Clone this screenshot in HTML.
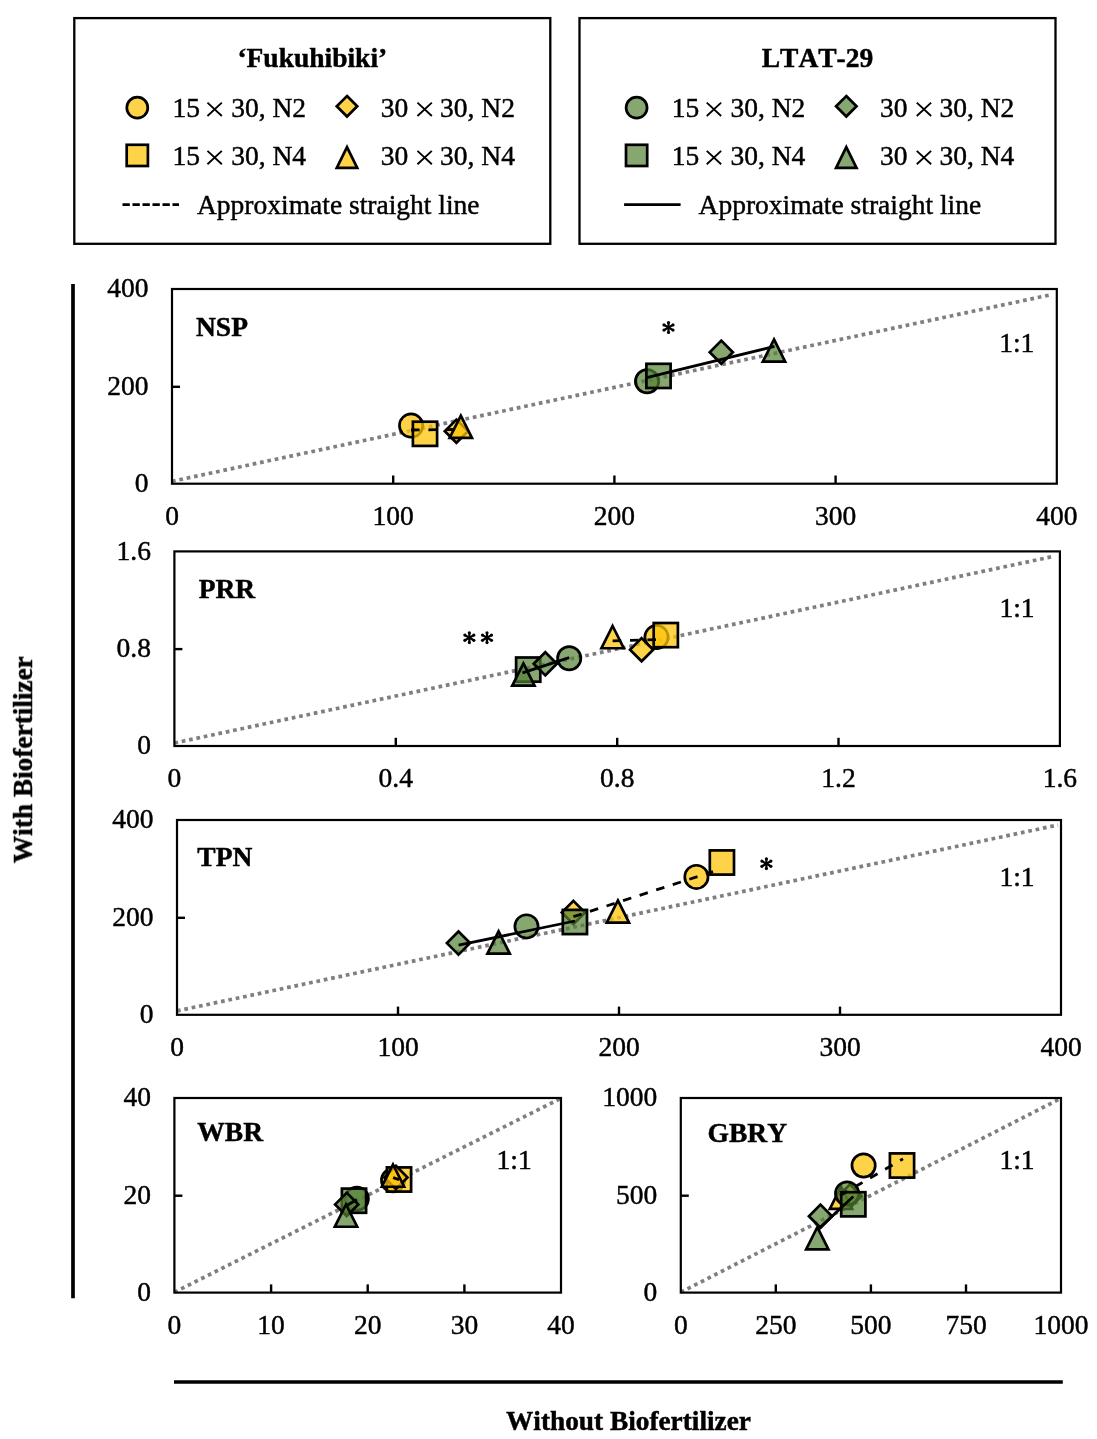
<!DOCTYPE html>
<html><head><meta charset="utf-8"><style>
html,body{margin:0;padding:0;background:#fff;overflow:hidden;}
svg{display:block;}
text{font-family:"Liberation Serif",serif;font-kerning:none;fill:#000;stroke:#000;stroke-width:0.45px;}
</style></head><body>
<svg width="1097" height="1439" viewBox="0 0 1097 1439">
<rect width="1097" height="1439" fill="#fff"/>
<rect x="74.3" y="18.1" width="476" height="225.7" fill="none" stroke="#000" stroke-width="2.3"/>
<circle cx="137.3" cy="107.7" r="10.50" fill="rgba(255,196,10,0.75)" stroke="#000" stroke-width="2.7"/>
<path d="M207.45 102.60L221.85 116.00M221.85 102.60L207.45 116.00" stroke="#000" stroke-width="1.85" fill="none"/>
<path d="M347.00 96.06L357.24 106.30L347.00 116.54L336.76 106.30Z" fill="rgba(255,196,10,0.75)" stroke="#000" stroke-width="2.7"/>
<path d="M417.45 102.60L431.85 116.00M431.85 102.60L417.45 116.00" stroke="#000" stroke-width="1.85" fill="none"/>
<rect x="126.70" y="144.80" width="21.20" height="21.20" fill="rgba(255,196,10,0.75)" stroke="#000" stroke-width="2.7"/>
<path d="M207.45 150.90L221.85 164.30M221.85 150.90L207.45 164.30" stroke="#000" stroke-width="1.85" fill="none"/>
<path d="M347.00 147.07L357.23 167.95L336.77 167.95Z" fill="rgba(255,196,10,0.75)" stroke="#000" stroke-width="2.7" stroke-linejoin="miter" stroke-miterlimit="10"/>
<path d="M417.45 150.90L431.85 164.30M431.85 150.90L417.45 164.30" stroke="#000" stroke-width="1.85" fill="none"/>
<line x1="122.5" y1="204.7" x2="179.0" y2="204.7" stroke="#000" stroke-width="2.7" stroke-dasharray="7.3 2.7" stroke-linecap="butt"/>
<rect x="579.5" y="18.1" width="476" height="225.7" fill="none" stroke="#000" stroke-width="2.3"/>
<circle cx="636.6" cy="107.7" r="10.50" fill="rgba(84,130,53,0.70)" stroke="#000" stroke-width="2.7"/>
<path d="M706.75 102.60L721.15 116.00M721.15 102.60L706.75 116.00" stroke="#000" stroke-width="1.85" fill="none"/>
<path d="M846.30 96.06L856.54 106.30L846.30 116.54L836.06 106.30Z" fill="rgba(84,130,53,0.70)" stroke="#000" stroke-width="2.7"/>
<path d="M916.75 102.60L931.15 116.00M931.15 102.60L916.75 116.00" stroke="#000" stroke-width="1.85" fill="none"/>
<rect x="626.00" y="144.80" width="21.20" height="21.20" fill="rgba(84,130,53,0.70)" stroke="#000" stroke-width="2.7"/>
<path d="M706.75 150.90L721.15 164.30M721.15 150.90L706.75 164.30" stroke="#000" stroke-width="1.85" fill="none"/>
<path d="M846.30 147.07L856.53 167.95L836.07 167.95Z" fill="rgba(84,130,53,0.70)" stroke="#000" stroke-width="2.7" stroke-linejoin="miter" stroke-miterlimit="10"/>
<path d="M916.75 150.90L931.15 164.30M931.15 150.90L916.75 164.30" stroke="#000" stroke-width="1.85" fill="none"/>
<line x1="624.1" y1="204.7" x2="680.6" y2="204.7" stroke="#000" stroke-width="2.7" stroke-linecap="butt"/>
<line x1="172.0" y1="481.3" x2="1052.0" y2="294.5" stroke="#7f7f7f" stroke-width="3.7" stroke-dasharray="3.7 3.8"/>
<circle cx="411.1" cy="425.6" r="11.65" fill="rgba(255,196,10,0.75)" stroke="#000" stroke-width="2.7"/>
<rect x="412.90" y="421.70" width="24.20" height="24.20" fill="rgba(255,196,10,0.75)" stroke="#000" stroke-width="2.7"/>
<path d="M456.40 419.61L467.99 431.20L456.40 442.79L444.81 431.20Z" fill="rgba(255,196,10,0.75)" stroke="#000" stroke-width="2.7"/>
<path d="M460.80 415.71L471.96 437.95L449.64 437.95Z" fill="rgba(255,196,10,0.75)" stroke="#000" stroke-width="2.7" stroke-linejoin="miter" stroke-miterlimit="10"/>
<circle cx="647.1" cy="381.2" r="11.65" fill="rgba(84,130,53,0.70)" stroke="#000" stroke-width="2.7"/>
<rect x="646.40" y="363.80" width="24.20" height="24.20" fill="rgba(84,130,53,0.70)" stroke="#000" stroke-width="2.7"/>
<path d="M721.30 340.61L732.89 352.20L721.30 363.79L709.71 352.20Z" fill="rgba(84,130,53,0.70)" stroke="#000" stroke-width="2.7"/>
<path d="M774.00 339.41L785.16 361.65L762.84 361.65Z" fill="rgba(84,130,53,0.70)" stroke="#000" stroke-width="2.7" stroke-linejoin="miter" stroke-miterlimit="10"/>
<line x1="411.0" y1="430.0" x2="456.0" y2="429.5" stroke="#000" stroke-width="2.8" stroke-dasharray="8.6 8.8" stroke-linecap="butt"/>
<line x1="646.7" y1="377.7" x2="774.5" y2="346.4" stroke="#000" stroke-width="2.8" stroke-linecap="butt"/>
<rect x="172.0" y="289.0" width="884.8" height="194.7" fill="none" stroke="#000" stroke-width="2.2"/>
<line x1="393.2" y1="483.7" x2="393.2" y2="475.5" stroke="#000" stroke-width="2.4" stroke-linecap="butt"/>
<line x1="614.4" y1="483.7" x2="614.4" y2="475.5" stroke="#000" stroke-width="2.4" stroke-linecap="butt"/>
<line x1="835.6" y1="483.7" x2="835.6" y2="475.5" stroke="#000" stroke-width="2.4" stroke-linecap="butt"/>
<line x1="172.0" y1="386.8" x2="180.0" y2="386.8" stroke="#000" stroke-width="2.4" stroke-linecap="butt"/>
<line x1="174.4" y1="743.0" x2="1052.0" y2="556.7" stroke="#7f7f7f" stroke-width="3.7" stroke-dasharray="3.7 3.8"/>
<circle cx="656.5" cy="637.1" r="11.65" fill="rgba(255,196,10,0.75)" stroke="#000" stroke-width="2.7"/>
<rect x="653.70" y="623.00" width="24.20" height="24.20" fill="rgba(255,196,10,0.75)" stroke="#000" stroke-width="2.7"/>
<path d="M641.60 638.11L653.19 649.70L641.60 661.29L630.01 649.70Z" fill="rgba(255,196,10,0.75)" stroke="#000" stroke-width="2.7"/>
<path d="M612.60 626.01L623.76 648.25L601.44 648.25Z" fill="rgba(255,196,10,0.75)" stroke="#000" stroke-width="2.7" stroke-linejoin="miter" stroke-miterlimit="10"/>
<circle cx="569.2" cy="658.3" r="11.65" fill="rgba(84,130,53,0.70)" stroke="#000" stroke-width="2.7"/>
<rect x="516.10" y="657.50" width="24.20" height="24.20" fill="rgba(84,130,53,0.70)" stroke="#000" stroke-width="2.7"/>
<path d="M545.30 652.21L556.89 663.80L545.30 675.39L533.71 663.80Z" fill="rgba(84,130,53,0.70)" stroke="#000" stroke-width="2.7"/>
<path d="M523.40 663.41L534.56 685.65L512.24 685.65Z" fill="rgba(84,130,53,0.70)" stroke="#000" stroke-width="2.7" stroke-linejoin="miter" stroke-miterlimit="10"/>
<line x1="612.6" y1="640.8" x2="656.2" y2="639.6" stroke="#000" stroke-width="2.8" stroke-dasharray="8.6 8.8" stroke-linecap="butt"/>
<line x1="522.5" y1="672.9" x2="569.2" y2="657.6" stroke="#000" stroke-width="2.8" stroke-linecap="butt"/>
<rect x="174.4" y="551.4" width="885.5" height="194.6" fill="none" stroke="#000" stroke-width="2.2"/>
<line x1="395.8" y1="746.0" x2="395.8" y2="737.8" stroke="#000" stroke-width="2.4" stroke-linecap="butt"/>
<line x1="617.2" y1="746.0" x2="617.2" y2="737.8" stroke="#000" stroke-width="2.4" stroke-linecap="butt"/>
<line x1="838.5" y1="746.0" x2="838.5" y2="737.8" stroke="#000" stroke-width="2.4" stroke-linecap="butt"/>
<line x1="174.4" y1="649.1" x2="182.4" y2="649.1" stroke="#000" stroke-width="2.4" stroke-linecap="butt"/>
<line x1="177.0" y1="1010.9" x2="1058.0" y2="825.0" stroke="#7f7f7f" stroke-width="3.7" stroke-dasharray="3.7 3.8"/>
<circle cx="696.4" cy="876.9" r="11.65" fill="rgba(255,196,10,0.75)" stroke="#000" stroke-width="2.7"/>
<rect x="709.80" y="850.40" width="24.20" height="24.20" fill="rgba(255,196,10,0.75)" stroke="#000" stroke-width="2.7"/>
<path d="M573.40 900.91L584.99 912.50L573.40 924.09L561.81 912.50Z" fill="rgba(255,196,10,0.75)" stroke="#000" stroke-width="2.7"/>
<path d="M617.90 900.41L629.06 922.65L606.74 922.65Z" fill="rgba(255,196,10,0.75)" stroke="#000" stroke-width="2.7" stroke-linejoin="miter" stroke-miterlimit="10"/>
<circle cx="526.5" cy="926.4" r="11.65" fill="rgba(84,130,53,0.70)" stroke="#000" stroke-width="2.7"/>
<rect x="562.80" y="909.90" width="24.20" height="24.20" fill="rgba(84,130,53,0.70)" stroke="#000" stroke-width="2.7"/>
<path d="M458.50 931.51L470.09 943.10L458.50 954.69L446.91 943.10Z" fill="rgba(84,130,53,0.70)" stroke="#000" stroke-width="2.7"/>
<path d="M498.60 931.31L509.76 953.55L487.44 953.55Z" fill="rgba(84,130,53,0.70)" stroke="#000" stroke-width="2.7" stroke-linejoin="miter" stroke-miterlimit="10"/>
<line x1="573.4" y1="916.7" x2="713.0" y2="871.6" stroke="#000" stroke-width="2.8" stroke-dasharray="8.6 8.8" stroke-linecap="butt"/>
<line x1="458.6" y1="945.2" x2="575.0" y2="921.0" stroke="#000" stroke-width="2.8" stroke-linecap="butt"/>
<rect x="177.0" y="820.0" width="884.0" height="194.8" fill="none" stroke="#000" stroke-width="2.2"/>
<line x1="398.0" y1="1014.8" x2="398.0" y2="1006.6" stroke="#000" stroke-width="2.4" stroke-linecap="butt"/>
<line x1="619.0" y1="1014.8" x2="619.0" y2="1006.6" stroke="#000" stroke-width="2.4" stroke-linecap="butt"/>
<line x1="840.0" y1="1014.8" x2="840.0" y2="1006.6" stroke="#000" stroke-width="2.4" stroke-linecap="butt"/>
<line x1="177.0" y1="917.8" x2="185.0" y2="917.8" stroke="#000" stroke-width="2.4" stroke-linecap="butt"/>
<line x1="174.4" y1="1292.2" x2="561.0" y2="1098.3" stroke="#7f7f7f" stroke-width="3.7" stroke-dasharray="3.7 3.8"/>
<circle cx="393.1" cy="1180.3" r="11.65" fill="rgba(255,196,10,0.75)" stroke="#000" stroke-width="2.7"/>
<rect x="386.90" y="1167.40" width="24.20" height="24.20" fill="rgba(255,196,10,0.75)" stroke="#000" stroke-width="2.7"/>
<path d="M395.90 1165.81L407.49 1177.40L395.90 1188.99L384.31 1177.40Z" fill="rgba(255,196,10,0.75)" stroke="#000" stroke-width="2.7"/>
<path d="M393.00 1164.51L404.16 1186.75L381.84 1186.75Z" fill="rgba(255,196,10,0.75)" stroke="#000" stroke-width="2.7" stroke-linejoin="miter" stroke-miterlimit="10"/>
<circle cx="356.8" cy="1198.8" r="11.65" fill="rgba(84,130,53,0.70)" stroke="#000" stroke-width="2.7"/>
<rect x="341.90" y="1188.60" width="24.20" height="24.20" fill="rgba(84,130,53,0.70)" stroke="#000" stroke-width="2.7"/>
<path d="M346.70 1192.81L358.29 1204.40L346.70 1215.99L335.11 1204.40Z" fill="rgba(84,130,53,0.70)" stroke="#000" stroke-width="2.7"/>
<path d="M346.00 1204.51L357.16 1226.75L334.84 1226.75Z" fill="rgba(84,130,53,0.70)" stroke="#000" stroke-width="2.7" stroke-linejoin="miter" stroke-miterlimit="10"/>
<line x1="393.1" y1="1177.6" x2="399.0" y2="1179.6" stroke="#000" stroke-width="2.8" stroke-dasharray="8.6 8.8" stroke-linecap="butt"/>
<line x1="346.0" y1="1206.0" x2="356.8" y2="1199.5" stroke="#000" stroke-width="2.8" stroke-linecap="butt"/>
<rect x="174.4" y="1098.0" width="386.6" height="194.6" fill="none" stroke="#000" stroke-width="2.2"/>
<line x1="271.1" y1="1292.6" x2="271.1" y2="1284.4" stroke="#000" stroke-width="2.4" stroke-linecap="butt"/>
<line x1="367.7" y1="1292.6" x2="367.7" y2="1284.4" stroke="#000" stroke-width="2.4" stroke-linecap="butt"/>
<line x1="464.4" y1="1292.6" x2="464.4" y2="1284.4" stroke="#000" stroke-width="2.4" stroke-linecap="butt"/>
<line x1="174.4" y1="1195.7" x2="182.4" y2="1195.7" stroke="#000" stroke-width="2.4" stroke-linecap="butt"/>
<line x1="680.8" y1="1292.2" x2="1061.0" y2="1098.3" stroke="#7f7f7f" stroke-width="3.7" stroke-dasharray="3.7 3.8"/>
<circle cx="863.6" cy="1165.5" r="11.65" fill="rgba(255,196,10,0.75)" stroke="#000" stroke-width="2.7"/>
<rect x="889.90" y="1153.40" width="24.20" height="24.20" fill="rgba(255,196,10,0.75)" stroke="#000" stroke-width="2.7"/>
<path d="M850.00 1184.41L861.59 1196.00L850.00 1207.59L838.41 1196.00Z" fill="rgba(255,196,10,0.75)" stroke="#000" stroke-width="2.7"/>
<path d="M841.00 1186.71L852.16 1208.95L829.84 1208.95Z" fill="rgba(255,196,10,0.75)" stroke="#000" stroke-width="2.7" stroke-linejoin="miter" stroke-miterlimit="10"/>
<circle cx="847.1" cy="1193.5" r="11.65" fill="rgba(84,130,53,0.70)" stroke="#000" stroke-width="2.7"/>
<rect x="841.20" y="1192.20" width="24.20" height="24.20" fill="rgba(84,130,53,0.70)" stroke="#000" stroke-width="2.7"/>
<path d="M820.50 1204.61L832.09 1216.20L820.50 1227.79L808.91 1216.20Z" fill="rgba(84,130,53,0.70)" stroke="#000" stroke-width="2.7"/>
<path d="M817.30 1227.21L828.46 1249.45L806.14 1249.45Z" fill="rgba(84,130,53,0.70)" stroke="#000" stroke-width="2.7" stroke-linejoin="miter" stroke-miterlimit="10"/>
<line x1="840.0" y1="1195.5" x2="903.0" y2="1158.9" stroke="#000" stroke-width="2.8" stroke-dasharray="8.6 8.8" stroke-linecap="butt"/>
<line x1="817.3" y1="1230.0" x2="853.3" y2="1196.5" stroke="#000" stroke-width="2.8" stroke-linecap="butt"/>
<rect x="680.8" y="1098.0" width="380.2" height="194.6" fill="none" stroke="#000" stroke-width="2.2"/>
<line x1="775.8" y1="1292.6" x2="775.8" y2="1284.4" stroke="#000" stroke-width="2.4" stroke-linecap="butt"/>
<line x1="870.9" y1="1292.6" x2="870.9" y2="1284.4" stroke="#000" stroke-width="2.4" stroke-linecap="butt"/>
<line x1="966.0" y1="1292.6" x2="966.0" y2="1284.4" stroke="#000" stroke-width="2.4" stroke-linecap="butt"/>
<line x1="680.8" y1="1195.7" x2="688.8" y2="1195.7" stroke="#000" stroke-width="2.4" stroke-linecap="butt"/>
<line x1="668.50" y1="327.50" x2="668.50" y2="322.60" stroke="#000" stroke-width="2.2" stroke-linecap="butt"/>
<circle cx="668.50" cy="322.60" r="1.6" fill="#000"/>
<line x1="668.50" y1="327.50" x2="668.50" y2="332.40" stroke="#000" stroke-width="2.2" stroke-linecap="butt"/>
<circle cx="668.50" cy="332.40" r="1.6" fill="#000"/>
<line x1="668.50" y1="327.50" x2="664.00" y2="324.90" stroke="#000" stroke-width="2.2" stroke-linecap="butt"/>
<circle cx="664.00" cy="324.90" r="1.6" fill="#000"/>
<line x1="668.50" y1="327.50" x2="664.00" y2="330.10" stroke="#000" stroke-width="2.2" stroke-linecap="butt"/>
<circle cx="664.00" cy="330.10" r="1.6" fill="#000"/>
<line x1="668.50" y1="327.50" x2="673.00" y2="324.90" stroke="#000" stroke-width="2.2" stroke-linecap="butt"/>
<circle cx="673.00" cy="324.90" r="1.6" fill="#000"/>
<line x1="668.50" y1="327.50" x2="673.00" y2="330.10" stroke="#000" stroke-width="2.2" stroke-linecap="butt"/>
<circle cx="673.00" cy="330.10" r="1.6" fill="#000"/>
<line x1="469.35" y1="637.70" x2="469.35" y2="632.80" stroke="#000" stroke-width="2.2" stroke-linecap="butt"/>
<circle cx="469.35" cy="632.80" r="1.6" fill="#000"/>
<line x1="469.35" y1="637.70" x2="469.35" y2="642.60" stroke="#000" stroke-width="2.2" stroke-linecap="butt"/>
<circle cx="469.35" cy="642.60" r="1.6" fill="#000"/>
<line x1="469.35" y1="637.70" x2="464.85" y2="635.10" stroke="#000" stroke-width="2.2" stroke-linecap="butt"/>
<circle cx="464.85" cy="635.10" r="1.6" fill="#000"/>
<line x1="469.35" y1="637.70" x2="464.85" y2="640.30" stroke="#000" stroke-width="2.2" stroke-linecap="butt"/>
<circle cx="464.85" cy="640.30" r="1.6" fill="#000"/>
<line x1="469.35" y1="637.70" x2="473.85" y2="635.10" stroke="#000" stroke-width="2.2" stroke-linecap="butt"/>
<circle cx="473.85" cy="635.10" r="1.6" fill="#000"/>
<line x1="469.35" y1="637.70" x2="473.85" y2="640.30" stroke="#000" stroke-width="2.2" stroke-linecap="butt"/>
<circle cx="473.85" cy="640.30" r="1.6" fill="#000"/>
<line x1="487.00" y1="637.70" x2="487.00" y2="632.80" stroke="#000" stroke-width="2.2" stroke-linecap="butt"/>
<circle cx="487.00" cy="632.80" r="1.6" fill="#000"/>
<line x1="487.00" y1="637.70" x2="487.00" y2="642.60" stroke="#000" stroke-width="2.2" stroke-linecap="butt"/>
<circle cx="487.00" cy="642.60" r="1.6" fill="#000"/>
<line x1="487.00" y1="637.70" x2="482.50" y2="635.10" stroke="#000" stroke-width="2.2" stroke-linecap="butt"/>
<circle cx="482.50" cy="635.10" r="1.6" fill="#000"/>
<line x1="487.00" y1="637.70" x2="482.50" y2="640.30" stroke="#000" stroke-width="2.2" stroke-linecap="butt"/>
<circle cx="482.50" cy="640.30" r="1.6" fill="#000"/>
<line x1="487.00" y1="637.70" x2="491.50" y2="635.10" stroke="#000" stroke-width="2.2" stroke-linecap="butt"/>
<circle cx="491.50" cy="635.10" r="1.6" fill="#000"/>
<line x1="487.00" y1="637.70" x2="491.50" y2="640.30" stroke="#000" stroke-width="2.2" stroke-linecap="butt"/>
<circle cx="491.50" cy="640.30" r="1.6" fill="#000"/>
<line x1="766.40" y1="863.70" x2="766.40" y2="858.80" stroke="#000" stroke-width="2.2" stroke-linecap="butt"/>
<circle cx="766.40" cy="858.80" r="1.6" fill="#000"/>
<line x1="766.40" y1="863.70" x2="766.40" y2="868.60" stroke="#000" stroke-width="2.2" stroke-linecap="butt"/>
<circle cx="766.40" cy="868.60" r="1.6" fill="#000"/>
<line x1="766.40" y1="863.70" x2="761.90" y2="861.10" stroke="#000" stroke-width="2.2" stroke-linecap="butt"/>
<circle cx="761.90" cy="861.10" r="1.6" fill="#000"/>
<line x1="766.40" y1="863.70" x2="761.90" y2="866.30" stroke="#000" stroke-width="2.2" stroke-linecap="butt"/>
<circle cx="761.90" cy="866.30" r="1.6" fill="#000"/>
<line x1="766.40" y1="863.70" x2="770.90" y2="861.10" stroke="#000" stroke-width="2.2" stroke-linecap="butt"/>
<circle cx="770.90" cy="861.10" r="1.6" fill="#000"/>
<line x1="766.40" y1="863.70" x2="770.90" y2="866.30" stroke="#000" stroke-width="2.2" stroke-linecap="butt"/>
<circle cx="770.90" cy="866.30" r="1.6" fill="#000"/>
<line x1="73.0" y1="284.0" x2="73.0" y2="1298.3" stroke="#000" stroke-width="3.7" stroke-linecap="butt"/>
<line x1="174.0" y1="1382.0" x2="1062.8" y2="1382.0" stroke="#000" stroke-width="3.7" stroke-linecap="butt"/>
<g style="filter:grayscale(1)">
<text x="312.3" y="67.0" text-anchor="middle" font-size="27.5" font-weight="bold">‘Fukuhibiki’</text>
<text x="172.4" y="117.0" text-anchor="start" font-size="27.5">15</text>
<text x="231.2" y="117.0" text-anchor="start" font-size="27.5">30, N2</text>
<text x="380.8" y="117.0" text-anchor="start" font-size="27.5">30</text>
<text x="440.1" y="117.0" text-anchor="start" font-size="27.5">30, N2</text>
<text x="172.4" y="165.3" text-anchor="start" font-size="27.5">15</text>
<text x="231.2" y="165.3" text-anchor="start" font-size="27.5">30, N4</text>
<text x="380.8" y="165.3" text-anchor="start" font-size="27.5">30</text>
<text x="440.1" y="165.3" text-anchor="start" font-size="27.5">30, N4</text>
<text x="197.0" y="214.4" text-anchor="start" font-size="27.5">Approximate straight line</text>
<text x="817.5" y="67.0" text-anchor="middle" font-size="27.5" font-weight="bold">LTAT-29</text>
<text x="671.7" y="117.0" text-anchor="start" font-size="27.5">15</text>
<text x="730.5" y="117.0" text-anchor="start" font-size="27.5">30, N2</text>
<text x="880.1" y="117.0" text-anchor="start" font-size="27.5">30</text>
<text x="939.4" y="117.0" text-anchor="start" font-size="27.5">30, N2</text>
<text x="671.7" y="165.3" text-anchor="start" font-size="27.5">15</text>
<text x="730.5" y="165.3" text-anchor="start" font-size="27.5">30, N4</text>
<text x="880.1" y="165.3" text-anchor="start" font-size="27.5">30</text>
<text x="939.4" y="165.3" text-anchor="start" font-size="27.5">30, N4</text>
<text x="698.6" y="214.4" text-anchor="start" font-size="27.5">Approximate straight line</text>
<text x="172.0" y="524.7" text-anchor="middle" font-size="27.5">0</text>
<text x="393.2" y="524.7" text-anchor="middle" font-size="27.5">100</text>
<text x="614.4" y="524.7" text-anchor="middle" font-size="27.5">200</text>
<text x="835.6" y="524.7" text-anchor="middle" font-size="27.5">300</text>
<text x="1056.8" y="524.7" text-anchor="middle" font-size="27.5">400</text>
<text x="148.5" y="492.1" text-anchor="end" font-size="27.5">0</text>
<text x="148.5" y="394.8" text-anchor="end" font-size="27.5">200</text>
<text x="148.5" y="297.4" text-anchor="end" font-size="27.5">400</text>
<text x="196.0" y="336.0" text-anchor="start" font-size="27.5" font-weight="bold">NSP</text>
<text x="999.2" y="352.1" text-anchor="start" font-size="27.5">1:1</text>
<text x="174.4" y="787.0" text-anchor="middle" font-size="27.5">0</text>
<text x="395.8" y="787.0" text-anchor="middle" font-size="27.5">0.4</text>
<text x="617.2" y="787.0" text-anchor="middle" font-size="27.5">0.8</text>
<text x="838.5" y="787.0" text-anchor="middle" font-size="27.5">1.2</text>
<text x="1059.9" y="787.0" text-anchor="middle" font-size="27.5">1.6</text>
<text x="150.9" y="754.4" text-anchor="end" font-size="27.5">0</text>
<text x="150.9" y="657.1" text-anchor="end" font-size="27.5">0.8</text>
<text x="150.9" y="559.8" text-anchor="end" font-size="27.5">1.6</text>
<text x="198.7" y="598.3" text-anchor="start" font-size="27.5" font-weight="bold">PRR</text>
<text x="999.4" y="616.7" text-anchor="start" font-size="27.5">1:1</text>
<text x="177.0" y="1055.8" text-anchor="middle" font-size="27.5">0</text>
<text x="398.0" y="1055.8" text-anchor="middle" font-size="27.5">100</text>
<text x="619.0" y="1055.8" text-anchor="middle" font-size="27.5">200</text>
<text x="840.0" y="1055.8" text-anchor="middle" font-size="27.5">300</text>
<text x="1061.0" y="1055.8" text-anchor="middle" font-size="27.5">400</text>
<text x="153.5" y="1023.2" text-anchor="end" font-size="27.5">0</text>
<text x="153.5" y="925.8" text-anchor="end" font-size="27.5">200</text>
<text x="153.5" y="828.4" text-anchor="end" font-size="27.5">400</text>
<text x="197.3" y="866.2" text-anchor="start" font-size="27.5" font-weight="bold">TPN</text>
<text x="999.4" y="886.1" text-anchor="start" font-size="27.5">1:1</text>
<text x="174.4" y="1333.6" text-anchor="middle" font-size="27.5">0</text>
<text x="271.1" y="1333.6" text-anchor="middle" font-size="27.5">10</text>
<text x="367.7" y="1333.6" text-anchor="middle" font-size="27.5">20</text>
<text x="464.4" y="1333.6" text-anchor="middle" font-size="27.5">30</text>
<text x="561.0" y="1333.6" text-anchor="middle" font-size="27.5">40</text>
<text x="150.9" y="1301.0" text-anchor="end" font-size="27.5">0</text>
<text x="150.9" y="1203.7" text-anchor="end" font-size="27.5">20</text>
<text x="150.9" y="1106.4" text-anchor="end" font-size="27.5">40</text>
<text x="197.3" y="1141.2" text-anchor="start" font-size="27.5" font-weight="bold">WBR</text>
<text x="496.5" y="1169.0" text-anchor="start" font-size="27.5">1:1</text>
<text x="680.8" y="1333.6" text-anchor="middle" font-size="27.5">0</text>
<text x="775.8" y="1333.6" text-anchor="middle" font-size="27.5">250</text>
<text x="870.9" y="1333.6" text-anchor="middle" font-size="27.5">500</text>
<text x="966.0" y="1333.6" text-anchor="middle" font-size="27.5">750</text>
<text x="1061.0" y="1333.6" text-anchor="middle" font-size="27.5">1000</text>
<text x="657.3" y="1301.0" text-anchor="end" font-size="27.5">0</text>
<text x="657.3" y="1203.7" text-anchor="end" font-size="27.5">500</text>
<text x="657.3" y="1106.4" text-anchor="end" font-size="27.5">1000</text>
<text x="707.6" y="1141.7" text-anchor="start" font-size="27.5" font-weight="bold">GBRY</text>
<text x="999.4" y="1169.0" text-anchor="start" font-size="27.5">1:1</text>
<text x="628.5" y="1429.6" text-anchor="middle" font-size="27.3" font-weight="bold">Without Biofertilizer</text>
<text x="0" y="0" text-anchor="middle" font-size="27.3" font-weight="bold" transform="translate(32.0 759.6) rotate(-90)">With Biofertilizer</text>
</g>
</svg>
</body></html>
